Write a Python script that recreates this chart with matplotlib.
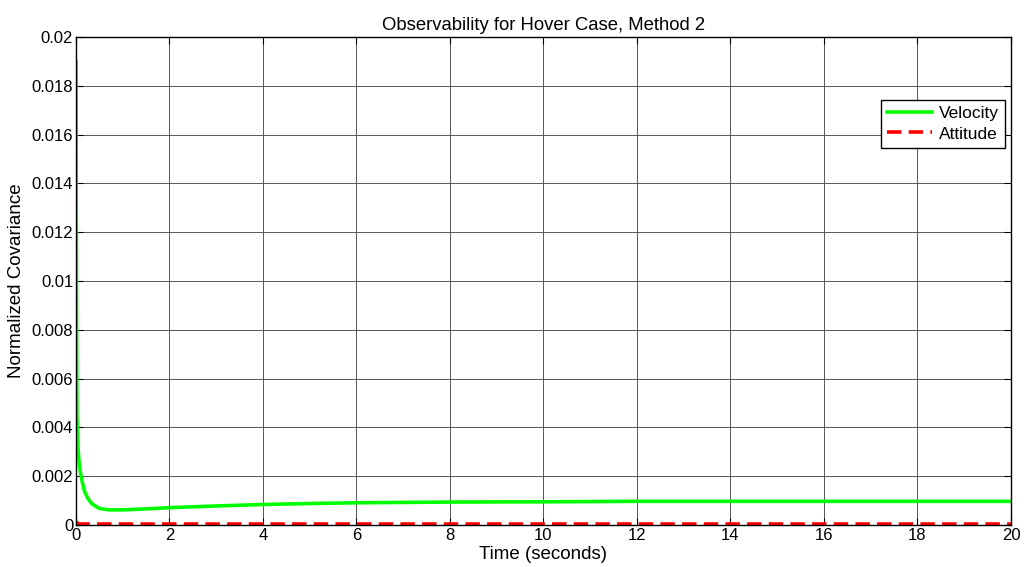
import matplotlib.pyplot as plt
import numpy as np

plt.rcParams['font.family'] = ['Liberation Sans', 'DejaVu Sans']

# Datos
t = [0, 0.01, 0.02, 0.04, 0.07, 0.1, 0.13, 0.18, 0.25, 0.35, 0.5, 0.7, 1.0,
     1.5, 2, 3, 4, 5, 6, 8, 10, 12, 14, 16, 18, 20]
velocidad = [0.019, 0.009, 0.0045, 0.0032, 0.0025, 0.0021, 0.0018, 0.0014,
             0.0011, 0.00085, 0.00068, 0.00062, 0.00062, 0.00066, 0.00071,
             0.00078, 0.00084, 0.00088, 0.00091, 0.00094, 0.00095, 0.00097,
             0.00097, 0.00097, 0.00097, 0.00097]
t_att = [0, 0.05, 0.1, 20]
actitud = [0.00012, 0.00005, 0.00004, 0.00004]

fig = plt.figure(figsize=(10.31, 5.67), dpi=100)
ax = fig.add_axes([0.0737, 0.0741, 0.9069, 0.8606])

ax.plot(t, velocidad, color='#00ff00', linewidth=2.6, label='Velocity')
ax.plot(t_att, actitud, color='#ff0000', linewidth=2.6, linestyle=(0, (4, 2)),
        label='Attitude')

ax.set_xlim(0, 20)
ax.set_ylim(0, 0.02)
ax.set_xticks(np.arange(0, 21, 2))
ax.set_yticks(np.arange(0, 0.0201, 0.002))
ax.set_yticklabels(['0', '0.002', '0.004', '0.006', '0.008', '0.01', '0.012',
                    '0.014', '0.016', '0.018', '0.02'])
ax.tick_params(direction='in', top=True, right=True, labelsize=12, length=5, pad=2)
ax.grid(True, color='#555555', linewidth=0.7)
for s in ax.spines.values():
    s.set_linewidth(1.0)

ax.set_xlabel('Time (seconds)', fontsize=13.5, labelpad=2)
ax.set_ylabel('Normalized Covariance', fontsize=13.5)
ax.yaxis.set_label_coords(-0.0546, 0.5)
ax.set_title('Observability for Hover Case, Method 2', fontsize=13.3, pad=5)

leg = ax.legend(loc='upper right', bbox_to_anchor=(0.9936, 0.871), fontsize=12.5,
                fancybox=False, framealpha=1, edgecolor='black',
                handlelength=2.6, borderpad=0.35, labelspacing=0.3,
                handletextpad=0.4, borderaxespad=0)
leg.get_frame().set_linewidth(1.0)

plt.savefig('out.png', dpi=100)
